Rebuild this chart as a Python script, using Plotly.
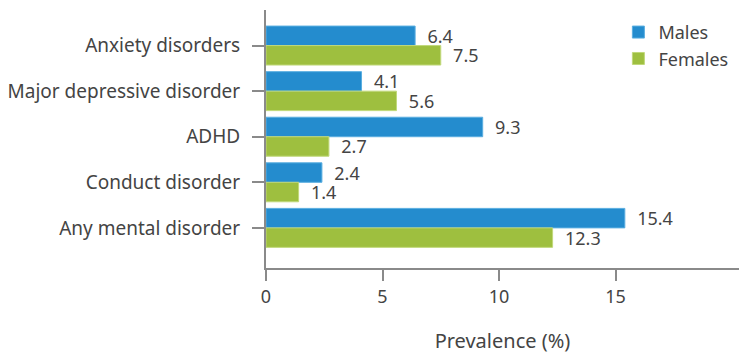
import plotly.graph_objects as go

categories = ["Anxiety disorders", "Major depressive disorder", "ADHD", "Conduct disorder", "Any mental disorder"]
males = [6.4, 4.1, 9.3, 2.4, 15.4]
females = [7.5, 5.6, 2.7, 1.4, 12.3]
x_ticks = [0, 5, 10, 15]

FONT = "Noto Sans"
GRAY = "#8a8a8a"
TXT = "#444444"
FS = 19

fig = go.Figure()
fig.add_trace(go.Bar(
    y=categories, x=males, name="Males", orientation="h",
    marker=dict(color="#248cce", line=dict(color="#5aaee0", width=1)),
    text=[f"{v:.1f}" for v in males], texttemplate="  %{text}",
    textposition="outside", constraintext="none",
    textfont=dict(size=FS - 1, color=TXT, family=FONT),
    cliponaxis=False,
))
fig.add_trace(go.Bar(
    y=categories, x=females, name="Females", orientation="h",
    marker=dict(color="#9ebf3f", line=dict(color="#c0d87a", width=1)),
    text=[f"{v:.1f}" for v in females], texttemplate="  %{text}",
    textposition="outside", constraintext="none",
    textfont=dict(size=FS - 1, color=TXT, family=FONT),
    cliponaxis=False,
))

fig.update_layout(
    width=739, height=354,
    margin=dict(l=266, r=0, t=10, b=86, autoexpand=False),
    paper_bgcolor="white", plot_bgcolor="white",
    barmode="group", bargap=0.145, bargroupgap=0,
    font=dict(family=FONT, size=FS, color=TXT),
    legend=dict(x=0.745, y=0.985, xanchor="left", yanchor="top",
                font=dict(size=FS - 1, color=TXT), traceorder="normal",
                itemwidth=30, tracegroupgap=0, bgcolor="rgba(0,0,0,0)"),
    xaxis=dict(range=[0, 20.3], tickvals=x_ticks, showgrid=False, zeroline=False,
               automargin=False,
               showline=True, linecolor=GRAY, linewidth=2,
               ticks="outside", ticklen=11, tickcolor=GRAY, tickwidth=2,
               tickfont=dict(size=FS - 1, color=TXT),
               title=dict(text="Prevalence (%)", font=dict(size=FS + 1, color=TXT), standoff=30)),
    yaxis=dict(categoryorder="array", categoryarray=categories,
               range=[4.88, -0.78], showgrid=False, zeroline=False,
               automargin=False, ticklabelstandoff=8,
               showline=True, linecolor=GRAY, linewidth=2,
               ticks="outside", ticklen=12, tickcolor=GRAY, tickwidth=2,
               tickfont=dict(size=FS, color=TXT)),
)

fig.write_html("out.html")
